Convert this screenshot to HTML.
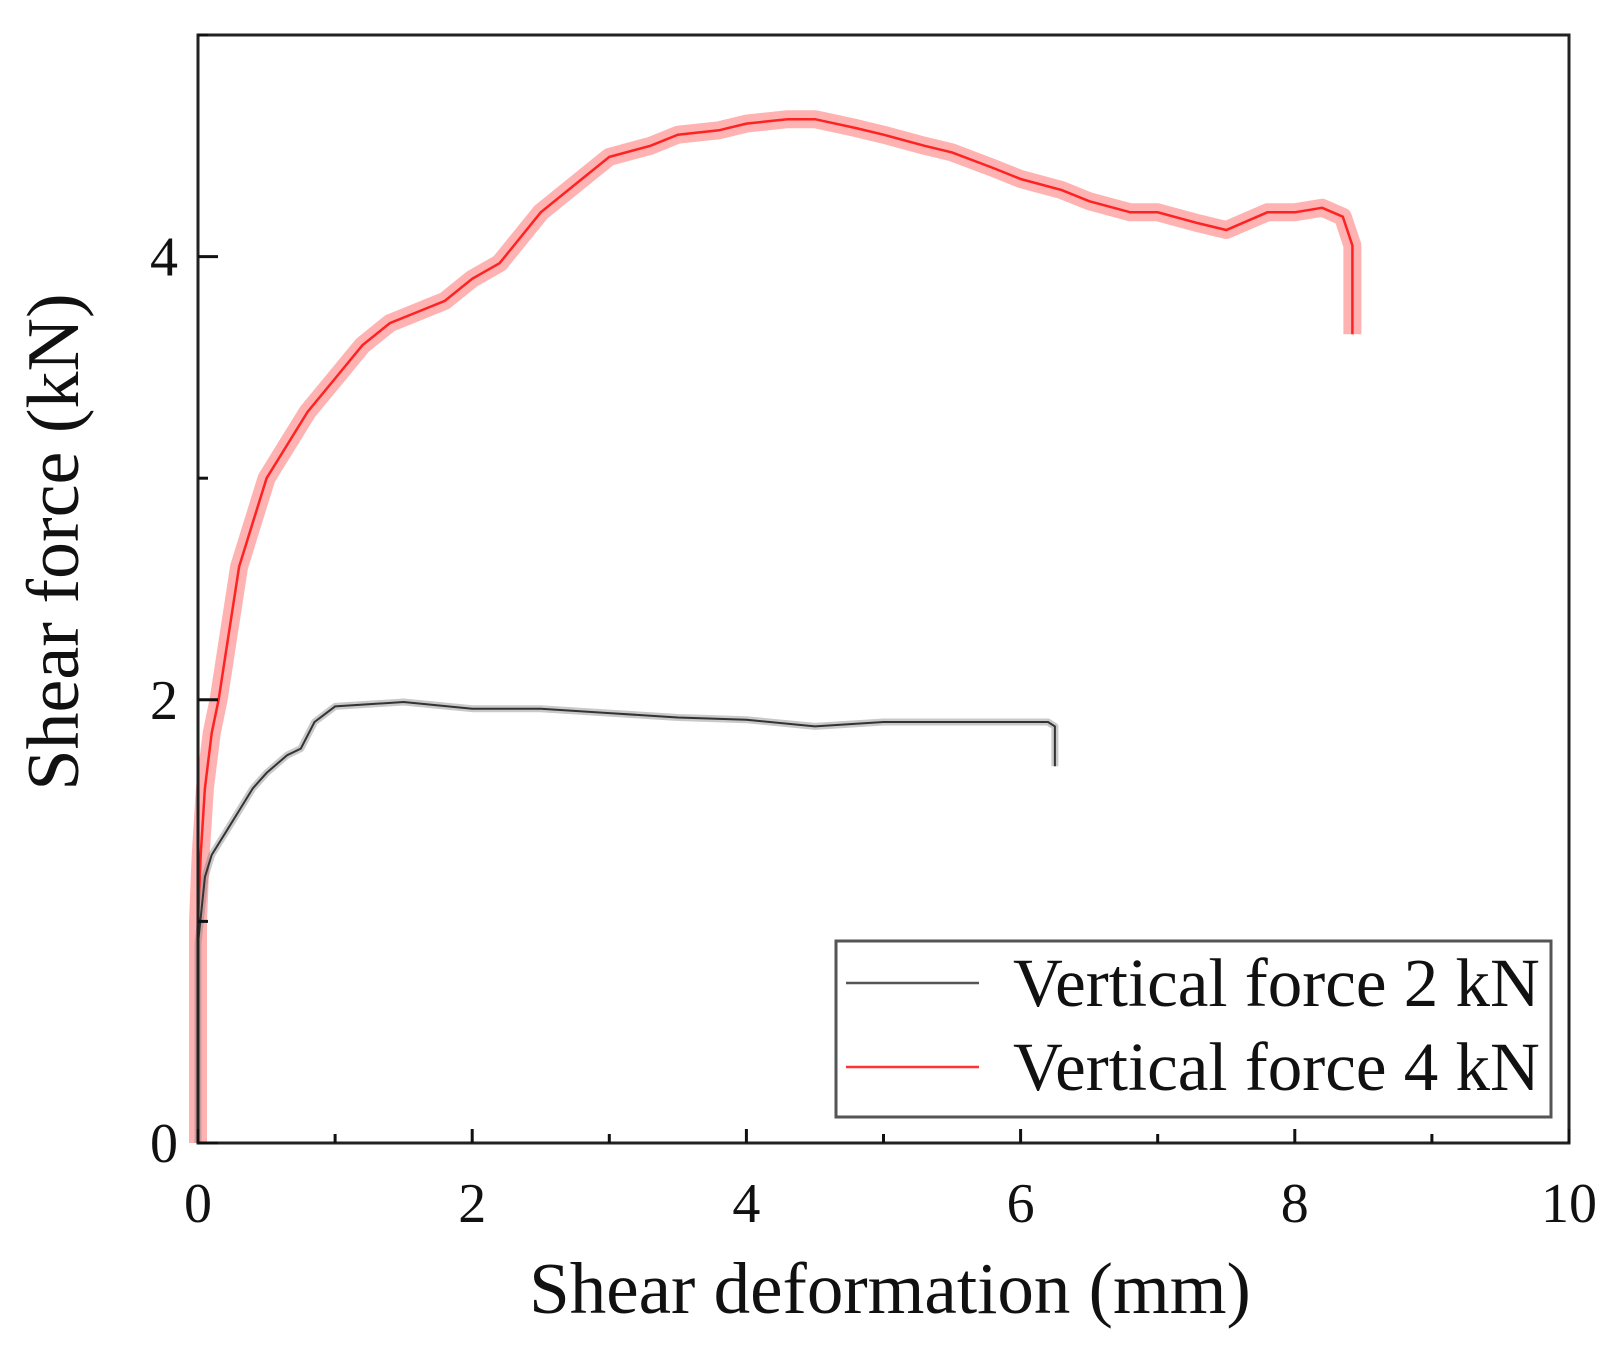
<!DOCTYPE html>
<html><head><meta charset="utf-8"><style>
body{margin:0;background:#fff}
svg text{font-family:"Liberation Serif",serif;fill:#111}
</style></head><body>
<svg id="chart" width="1619" height="1342" xmlns="http://www.w3.org/2000/svg">
<g id="plot"></g>
</svg>
<script>
const xTicks=[0,2,4,6,8,10];
const xMinor=[1,3,5,7,9];
const yTicks=[0,2,4];
const yMinor=[1,3,5];
const redX=[0,0,0.02,0.05,0.1,0.15,0.2,0.3,0.4,0.5,0.65,0.8,1.0,1.2,1.4,1.6,1.8,2.0,2.2,2.5,2.8,3.0,3.3,3.5,3.8,4.0,4.3,4.5,4.8,5.0,5.3,5.5,5.8,6.0,6.3,6.5,6.8,7.0,7.3,7.5,7.8,8.0,8.2,8.35,8.42,8.42];
const redY=[0,1.0,1.3,1.6,1.85,2.0,2.2,2.6,2.8,3.0,3.15,3.3,3.45,3.6,3.7,3.75,3.8,3.9,3.97,4.2,4.35,4.45,4.5,4.55,4.57,4.6,4.62,4.62,4.58,4.55,4.5,4.47,4.4,4.35,4.3,4.25,4.2,4.2,4.15,4.12,4.2,4.2,4.22,4.18,4.05,3.65];
const blkX=[0,0,0.05,0.1,0.2,0.3,0.4,0.5,0.65,0.75,0.85,1.0,1.5,2.0,2.5,3.0,3.5,4.0,4.5,5.0,5.5,6.0,6.2,6.25,6.25];
const blkY=[0,0.9,1.2,1.3,1.4,1.5,1.6,1.67,1.75,1.78,1.9,1.97,1.99,1.96,1.96,1.94,1.92,1.91,1.88,1.9,1.9,1.9,1.9,1.88,1.7];
const L=198,R=1569,T=35,B=1143,XMAX=10,YMAX=5;
const sx=v=>L+(R-L)*v/XMAX, sy=v=>B-(B-T)*v/YMAX;
const NS="http://www.w3.org/2000/svg", g=document.getElementById('plot');
function mk(t,a){const e=document.createElementNS(NS,t);for(const k in a)e.setAttribute(k,a[k]);g.appendChild(e);return e;}
function pts(xs,ys){return xs.map((x,i)=>sx(x).toFixed(1)+','+sy(ys[i]).toFixed(1)).join(' ');}
let e;
e=mk('polyline',{points:pts(redX,redY),fill:'none',stroke:'#ff5555','stroke-width':18,'stroke-opacity':0.45,'stroke-linejoin':'round'});


e=mk('polyline',{points:pts(redX,redY),fill:'none',stroke:'#f22','stroke-width':2.5});


e=mk('polyline',{points:pts(blkX,blkY),fill:'none',stroke:'#777','stroke-width':7,'stroke-opacity':0.4,'stroke-linejoin':'round'});


e=mk('polyline',{points:pts(blkX,blkY),fill:'none',stroke:'#333','stroke-width':2});


e=mk('rect',{x:L,y:T,width:R-L,height:B-T,fill:'none',stroke:'#222','stroke-width':3});


xTicks.forEach(v=>{
 e=mk('line',{x1:sx(v),x2:sx(v),y1:B,y2:B-14,stroke:'#111','stroke-width':3});
 
 
 e=mk('text',{x:sx(v),y:1222,'font-size':56,'text-anchor':'middle'});e.textContent=v;
 
 
});
xMinor.forEach(v=>{
 e=mk('line',{x1:sx(v),x2:sx(v),y1:B,y2:B-9,stroke:'#111','stroke-width':3});
 
 
});
yTicks.forEach(v=>{
 e=mk('line',{x1:L,x2:L+20,y1:sy(v),y2:sy(v),stroke:'#111','stroke-width':3});
 
 
 e=mk('text',{x:178,y:sy(v)+19,'font-size':56,'text-anchor':'end'});e.textContent=v;
 
 
});
yMinor.forEach(v=>{
 e=mk('line',{x1:L,x2:L+10,y1:sy(v),y2:sy(v),stroke:'#111','stroke-width':3});
 
 
});
e=mk('text',{x:890,y:1313,'font-size':73,'text-anchor':'middle'});e.textContent='Shear deformation (mm)';


e=mk('text',{x:0,y:0,'font-size':74,'text-anchor':'middle',transform:'translate(78,542) rotate(-90)'});e.textContent='Shear force (kN)';


e=mk('rect',{x:836,y:941,width:715,height:176,fill:'#fff',stroke:'#555','stroke-width':3});


[['#555','Vertical force 2 kN',983],['#f33','Vertical force 4 kN',1067]].forEach(([c,t,y])=>{
 e=mk('line',{x1:846,x2:979,y1:y,y2:y,stroke:c,'stroke-width':2.5});
 
 
 e=mk('text',{x:1013,y:y+23,'font-size':69});e.textContent=t;
 
 
});
</script>
</body></html>
